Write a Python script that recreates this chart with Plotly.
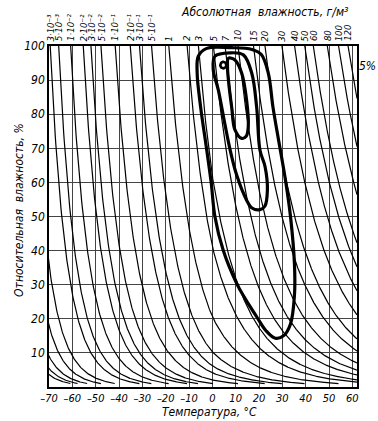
import numpy as np
import plotly.graph_objects as go

# absolute humidity isolines, g/m^3 (labelled at top)
abs_hum = [3e-3, 5e-3, 1e-2, 2e-2, 3e-2, 5e-2, 1e-1, 2e-1, 3e-1, 5e-1,
           1, 2, 3, 5, 7, 10, 15, 20, 30, 40, 50, 60, 80, 100, 120]
abs_hum_labels = ["3·10⁻³", "5·10⁻³", "1·10⁻²", "2·10⁻²", "3·10⁻²", "5·10⁻²",
                  "1·10⁻¹", "2·10⁻¹", "3·10⁻¹", "5·10⁻¹",
                  "1", "2", "3", "5", "7", "10", "15", "20", "30", "40",
                  "50", "60", "80", "100", "120"]
# unlabelled low isolines entering from the left edge
abs_hum_extra = [1e-3, 5e-4, 2.5e-4, 1.5e-4, 1e-4]

x_ticks = [-70, -60, -50, -40, -30, -20, -10, 0, 10, 20, 30, 40, 50, 60]
y_ticks = [10, 20, 30, 40, 50, 60, 70, 80, 90, 100]

# frequency contours (temperature °C, relative humidity %)
outer_T = [-6, -2.4, 8, 17, 21, 24, 26, 28.5, 31.5, 33.5, 35.2, 35.2, 33.5, 30.5, 27, 23, 19, 14, 10.4, 4.7, 1.1, -0.5, -2.5, -5, -6.5, -6]
outer_RH = [97, 99.3, 99.5, 99, 97.5, 92, 82, 72, 60, 50, 36, 27, 18.5, 15, 14.3, 16.5, 20.6, 26, 30.4, 40, 50, 60, 70, 82, 92, 97]

middle_T = [1.1, 7.6, 13.3, 16.9, 19, 20.4, 22.6, 23.6, 22.5, 20.4, 17, 14.7, 10.5, 7.8, 5.4, 2.6, 0.4, 1.1]
middle_RH = [97, 98, 97.4, 92, 82, 69.5, 64.6, 57.8, 53, 52, 52.5, 54.8, 62, 69, 77, 87, 93, 97]

inner_T = [6.9, 9.7, 12.6, 14.7, 15.4, 14.5, 12.6, 9.7, 8.3, 6.9, 6.5, 6.9]
inner_RH = [96.4, 95.9, 92, 84, 76.3, 73.5, 72.9, 75.4, 82, 90, 94, 96.4]

core_T, core_RH, core_r = 4.7, 94.4, 1.3


def a_sat(t):
    t = np.asarray(t, dtype=float)
    e = np.where(t >= 0,
                 6.112 * np.exp(17.62 * t / (243.12 + t)),
                 6.112 * np.exp(22.46 * t / (272.62 + t)))
    return 216.7 * e / (t + 273.15)


T_grid = np.linspace(-110, 70, 9001)
A_grid = a_sat(T_grid)


def t_sat(a):
    return float(np.interp(np.log(a), np.log(A_grid), T_grid))


fig = go.Figure()

for a in abs_hum_extra + abs_hum:
    ts = t_sat(a)
    t = np.linspace(ts, 62, 600)
    rh = 100 * a / a_sat(t)
    m = rh >= 1.0
    fig.add_trace(go.Scatter(x=t[m], y=np.minimum(rh[m], 100), mode="lines",
                             line=dict(color="black", width=1.2),
                             hoverinfo="skip", showlegend=False))

for tx, ry in [(outer_T, outer_RH), (middle_T, middle_RH), (inner_T, inner_RH)]:
    fig.add_trace(go.Scatter(x=tx, y=ry, mode="lines",
                             line=dict(color="black", width=3.2, shape="spline", smoothing=1.0),
                             hoverinfo="skip", showlegend=False))

ang = np.linspace(0, 2 * np.pi, 60)
fig.add_trace(go.Scatter(x=core_T + core_r * np.cos(ang), y=core_RH + 0.95 * np.sin(ang),
                         mode="lines", line=dict(color="black", width=2.6),
                         hoverinfo="skip", showlegend=False))

font_c = dict(family="DejaVu Sans Condensed", color="black", style="italic")

annotations = []
for a, lab in zip(abs_hum, abs_hum_labels):
    annotations.append(dict(x=t_sat(a), y=1.008, xref="x", yref="paper", text=lab,
                            showarrow=False, textangle=-90, xanchor="center",
                            yanchor="bottom", font=dict(size=9.5, **font_c)))
annotations.append(dict(x=0.70, y=1.1, xref="paper", yref="paper",
                        text="Абсолютная  влажность, г/м³", showarrow=False,
                        xanchor="center", yanchor="middle", font=dict(size=12, **font_c)))
annotations.append(dict(x=-0.1, y=0.52, xref="paper", yref="paper",
                        text="Относительная  влажность, %", showarrow=False,
                        textangle=-90, xanchor="center", yanchor="middle",
                        font=dict(size=12, **font_c)))
annotations.append(dict(x=0.52, y=-0.074, xref="paper", yref="paper",
                        text="Температура, °С", showarrow=False,
                        xanchor="center", yanchor="middle", font=dict(size=12, **font_c)))
annotations.append(dict(x=1.0, y=0.94, xref="paper", yref="paper",
                        text="5%", showarrow=False, xanchor="left", yanchor="middle",
                        font=dict(size=12, **font_c)))

fig.update_layout(
    width=378, height=421,
    margin=dict(l=49, r=21, t=46, b=34),
    paper_bgcolor="white", plot_bgcolor="white",
    annotations=annotations,
    showlegend=False,
)
fig.update_xaxes(range=[-70, 62], tickvals=x_ticks,
                 ticktext=[("–" + str(-v)) if v < 0 else str(v) for v in x_ticks],
                 tickangle=0, ticklabelstandoff=0,
                 showgrid=True, gridcolor="#444", gridwidth=1,
                 zeroline=False, showline=True, linecolor="black", linewidth=1.5,
                 mirror=True, ticks="", tickfont=dict(size=11, **font_c))
fig.update_yaxes(range=[0, 100], tickvals=y_ticks,
                 showgrid=True, gridcolor="#444", gridwidth=1,
                 zeroline=False, showline=True, linecolor="black", linewidth=1.5,
                 mirror=True, ticks="", tickfont=dict(size=12, **font_c))

fig.write_html("out.html", config={"displayModeBar": False},
               post_script="document.body.style.margin='0';document.body.style.padding='0';")
